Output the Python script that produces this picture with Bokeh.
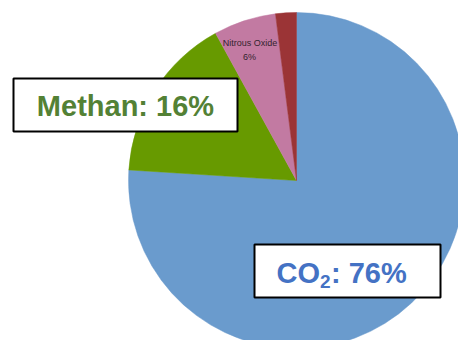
import numpy as np
from bokeh.plotting import figure
from bokeh.models import Range1d
from bokeh.core.properties import value
from bokeh.embed import file_html
from bokeh.resources import INLINE

# Greenhouse gas shares (percent), drawn clockwise from 12 o'clock
gases = ["CO2", "Methane", "Nitrous Oxide", "F-gases"]
shares = [76, 16, 6, 2]
colors = ["#6A9BCD", "#679A00", "#C27AA2", "#9B3436"]

W, H = 458, 340
p = figure(width=W, height=H, output_backend="svg", toolbar_location=None,
           x_range=Range1d(0, W), y_range=Range1d(0, H),
           min_border=0, outline_line_color=None)
p.axis.visible = False
p.grid.visible = False
p.background_fill_color = "white"
p.border_fill_color = "white"

cx, cy, r = 296, 160, 168

frac = np.array(shares, dtype=float) / sum(shares)
cum = np.concatenate([[0], np.cumsum(frac)])
start = np.deg2rad(90 - cum[1:] * 360)
end = np.deg2rad(90 - cum[:-1] * 360)

p.wedge(x=cx, y=cy, radius=r, start_angle=start, end_angle=end,
        fill_color=colors, line_color=colors, line_width=0.5)

# Small in-slice label for nitrous oxide
small = dict(text_font=value("Liberation Sans"), text_font_size="9px",
             text_color="#33242E", text_align="center", text_baseline="middle")
p.text(x=[249.5], y=[H - 42], text=["Nitrous Oxide"], **small)
p.text(x=[249], y=[H - 56], text=[f"{shares[2]}%"], **small)

# Callout boxes
p.quad(left=[13, 254], right=[237, 440], top=[H - 78, H - 244], bottom=[H - 131, H - 297],
       fill_color="white", line_color="black", line_width=2)

p.text(x=[125], y=[H - 105], text=[f"Methan: {shares[1]}%"], text_font=value("Liberation Sans"),
       text_font_style="bold", text_font_size="29px", text_color="#538135",
       text_align="center", text_baseline="middle")

blue = "#4472C4"
p.text(x=[276], y=[H - 272.5], text=["CO"], text_font=value("Liberation Sans"),
       text_font_style="bold", text_font_size="29px", text_color=blue,
       text_align="left", text_baseline="middle")
p.text(x=[319.5], y=[H - 281], text=["2"], text_font=value("Liberation Sans"),
       text_font_style="bold", text_font_size="19px", text_color=blue,
       text_align="left", text_baseline="middle")
p.text(x=[330.5], y=[H - 272.5], text=[f": {shares[0]}%"], text_font=value("Liberation Sans"),
       text_font_style="bold", text_font_size="29px", text_color=blue,
       text_align="left", text_baseline="middle")

open("out.html", "w").write(file_html(p, INLINE))
